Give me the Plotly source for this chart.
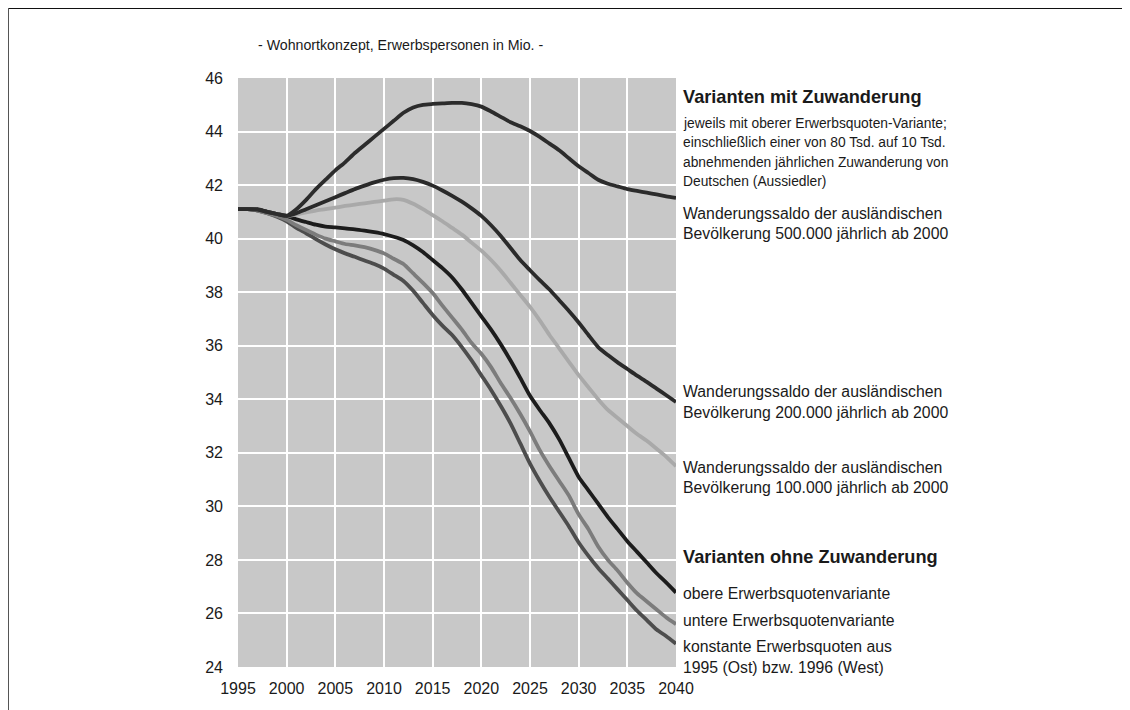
import plotly.graph_objects as go

years = list(range(1995, 2041))

saldo_500 = [41.1, 41.1, 41.1, 41.0, 40.92, 40.85, 41.1, 41.45, 41.85, 42.2,
             42.55, 42.85, 43.2, 43.5, 43.8, 44.1, 44.4, 44.7, 44.9, 45.0,
             45.03, 45.05, 45.07, 45.07, 45.02, 44.93, 44.75, 44.55, 44.35, 44.2,
             44.02, 43.8, 43.55, 43.3, 43.0, 42.7, 42.45, 42.2, 42.05, 41.95,
             41.85, 41.78, 41.72, 41.65, 41.58, 41.52]
saldo_200 = [41.1, 41.1, 41.08, 41.0, 40.92, 40.85, 40.95, 41.1, 41.25, 41.4,
             41.55, 41.7, 41.85, 41.98, 42.1, 42.2, 42.26, 42.27, 42.22, 42.12,
             41.98, 41.8, 41.6, 41.38, 41.13, 40.85, 40.5, 40.1, 39.65, 39.2,
             38.82, 38.45, 38.1, 37.7, 37.3, 36.87, 36.4, 35.95, 35.65, 35.38,
             35.13, 34.88, 34.65, 34.4, 34.15, 33.9]
saldo_100 = [41.1, 41.1, 41.08, 41.0, 40.92, 40.85, 40.9, 40.98, 41.05, 41.1,
             41.16, 41.22, 41.27, 41.32, 41.37, 41.42, 41.47, 41.45, 41.3, 41.1,
             40.88, 40.65, 40.4, 40.15, 39.85, 39.55, 39.2, 38.8, 38.35, 37.9,
             37.45, 36.95, 36.4, 35.9, 35.4, 34.9, 34.45, 34.0, 33.6, 33.3,
             33.0, 32.7, 32.45, 32.15, 31.85, 31.5]
obere = [41.1, 41.1, 41.08, 41.0, 40.92, 40.85, 40.72, 40.62, 40.52, 40.45,
         40.42, 40.38, 40.35, 40.3, 40.24, 40.17, 40.07, 39.95, 39.75, 39.5,
         39.2, 38.9, 38.55, 38.1, 37.6, 37.1, 36.6, 36.05, 35.45, 34.8,
         34.13, 33.6, 33.1, 32.5, 31.8, 31.1, 30.6, 30.1, 29.6, 29.15,
         28.7, 28.3, 27.9, 27.5, 27.15, 26.78]
untere = [41.1, 41.1, 41.05, 40.95, 40.85, 40.7, 40.5, 40.32, 40.15, 40.0,
          39.9, 39.8, 39.75, 39.68, 39.58, 39.45, 39.25, 39.05, 38.7, 38.35,
          37.97, 37.5, 37.05, 36.6, 36.1, 35.7, 35.2, 34.6, 34.05, 33.45,
          32.8, 32.1, 31.5, 30.95, 30.4, 29.7, 29.15, 28.5, 28.0, 27.6,
          27.15, 26.75, 26.45, 26.15, 25.85, 25.6]
konstant = [41.1, 41.1, 41.05, 40.95, 40.82, 40.65, 40.4, 40.2, 39.98, 39.78,
            39.6, 39.45, 39.32, 39.18, 39.05, 38.88, 38.65, 38.42, 38.05, 37.6,
            37.15, 36.75, 36.4, 35.95, 35.45, 34.9, 34.35, 33.75, 33.1, 32.35,
            31.6, 30.95, 30.35, 29.8, 29.25, 28.65, 28.15, 27.7, 27.3, 26.9,
            26.5, 26.1, 25.75, 25.4, 25.15, 24.87]

x_ticks = [1995, 2000, 2005, 2010, 2015, 2020, 2025, 2030, 2035, 2040]
y_ticks = [24, 26, 28, 30, 32, 34, 36, 38, 40, 42, 44, 46]

series = [
    ("konstant", konstant, "#4d4d4d"),
    ("untere", untere, "#7c7c7c"),
    ("obere", obere, "#1c1c1c"),
    ("saldo_100", saldo_100, "#a9a9a9"),
    ("saldo_200", saldo_200, "#2a2a2a"),
    ("saldo_500", saldo_500, "#2c2c2c"),
]

fig = go.Figure()
for name, vals, col in series:
    fig.add_trace(go.Scatter(x=years, y=vals, mode="lines", name=name,
                             line=dict(color=col, width=3.8, shape="spline", smoothing=0.6),
                             showlegend=False, hoverinfo="skip"))

FONT = "Liberation Sans, Arial, sans-serif"
OFF = 8  # page body margin
L, R, T, B = 238 - OFF, 676 - OFF, 78 - OFF, 667 - OFF
W, H = 1130 - OFF, 710 - OFF
pw, ph = R - L, B - T

def px(xp):
    return (xp - OFF - L) / pw

def py(yp):
    return (B - (yp - OFF)) / ph

annotations = []
def txt(s, xp, yp, size=15.8, bold=False, anchor="left"):
    annotations.append(dict(text=("<b>%s</b>" % s) if bold else s,
                            xref="paper", yref="paper", x=px(xp), y=py(yp),
                            xanchor=anchor, yanchor="middle", showarrow=False,
                            font=dict(family=FONT, size=size, color="#1a1a1a")))

txt("- Wohnortkonzept, Erwerbspersonen in Mio. -", 400, 45, size=14.2, anchor="center")
tx = 681
txt("Varianten mit Zuwanderung", tx, 97, size=18.2, bold=True)
txt("jeweils mit oberer Erwerbsquoten-Variante;", tx, 123, size=13.8)
txt("einschließlich einer von 80 Tsd. auf 10 Tsd.", tx, 142, size=13.8)
txt("abnehmenden jährlichen Zuwanderung von", tx, 162, size=13.8)
txt("Deutschen (Aussiedler)", tx, 181, size=13.8)
txt("Wanderungssaldo der ausländischen", tx, 213)
txt("Bevölkerung 500.000 jährlich ab 2000", tx, 234)
txt("Wanderungssaldo der ausländischen", tx, 391)
txt("Bevölkerung 200.000 jährlich ab 2000", tx, 412)
txt("Wanderungssaldo der ausländischen", tx, 467)
txt("Bevölkerung 100.000 jährlich ab 2000", tx, 487)
txt("Varianten ohne Zuwanderung", tx, 557, size=18.2, bold=True)
txt("obere Erwerbsquotenvariante", tx, 593)
txt("untere Erwerbsquotenvariante", tx, 620)
txt("konstante Erwerbsquoten aus", tx, 646)
txt("1995 (Ost) bzw. 1996 (West)", tx, 667)

shapes = [
    dict(type="line", xref="paper", yref="paper", x0=px(8), x1=px(1130), y0=py(8), y1=py(8),
         line=dict(color="#111111", width=2)),
    dict(type="line", xref="paper", yref="paper", x0=px(8), x1=px(8), y0=py(8), y1=py(712),
         line=dict(color="#555555", width=2)),
]

fig.update_layout(
    width=W, height=H,
    margin=dict(l=L, r=W - R, t=T, b=H - B, pad=0),
    paper_bgcolor="white",
    plot_bgcolor="#c8c8c8",
    annotations=annotations,
    shapes=shapes,
    font=dict(family=FONT, size=16, color="#1a1a1a"),
    xaxis=dict(range=[1995, 2040], tickvals=x_ticks, ticktext=[str(v) for v in x_ticks],
               showgrid=True, gridcolor="white", gridwidth=2, zeroline=False,
               showline=False, ticks="", ticklabelstandoff=10,
               tickfont=dict(family=FONT, size=16, color="#1a1a1a")),
    yaxis=dict(range=[24, 46], tickvals=y_ticks, ticktext=[str(v) for v in y_ticks],
               showgrid=True, gridcolor="white", gridwidth=2, zeroline=False,
               showline=False, ticks="", ticklabelstandoff=14,
               tickfont=dict(family=FONT, size=16, color="#1a1a1a")),
)

fig.write_html("out.html")
